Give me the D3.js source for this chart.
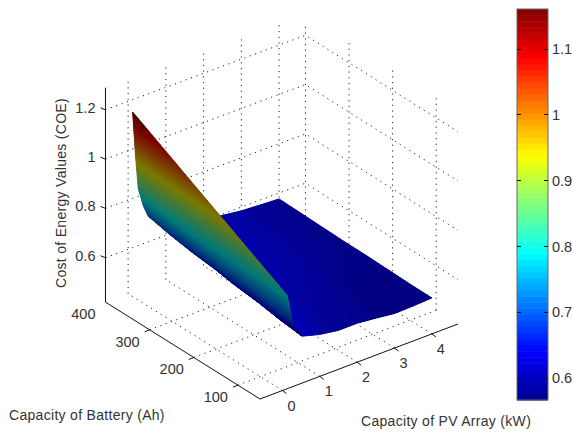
<!DOCTYPE html>
<html>
<head>
<meta charset="utf-8">
<script src="https://d3js.org/d3.v7.min.js"></script>
<style>
  body { margin: 0; background: #fff; }
  text { font-family: "Liberation Sans", Arial, sans-serif; fill: #333; }
</style>
</head>
<body>
<svg width="572" height="433"></svg>
<script>
// tick values on the axes
const batTicks = [100, 200, 300, 400];
const pvTicks = [0, 1, 2, 3, 4];
const coeTicks = [0.6, 0.8, 1, 1.2];
const barTicks = [0.6, 0.7, 0.8, 0.9, 1, 1.1];

// surface grid
const batGrid = [50, 100, 150, 200, 250, 300, 350, 400];
const pvGrid = [0.12, 0.2, 0.27, 0.4, 0.53, 1, 1.5, 2, 2.5, 3, 3.5, 4];
// one row per pvGrid value, one column per batGrid value
const coeRows = [
  [0.80, 0.85, 0.90, 0.95, 1.00, 1.05, 1.10, 1.15],
  [0.74, 0.77, 0.80, 0.83, 0.86, 0.90, 0.93, 0.96],
  [0.68, 0.70, 0.72, 0.74, 0.76, 0.78, 0.80, 0.83],
  [0.64, 0.655, 0.67, 0.685, 0.70, 0.72, 0.735, 0.755],
  [0.61, 0.62, 0.635, 0.645, 0.66, 0.67, 0.685, 0.705],
  [0.59, 0.60, 0.605, 0.61, 0.62, 0.625, 0.63, 0.64],
  [0.578, 0.585, 0.59, 0.60, 0.605, 0.61, 0.615, 0.62],
  [0.578, 0.58, 0.585, 0.59, 0.595, 0.60, 0.60, 0.605],
  [0.57, 0.575, 0.58, 0.585, 0.59, 0.59, 0.595, 0.595],
  [0.56, 0.565, 0.57, 0.575, 0.58, 0.585, 0.585, 0.585],
  [0.562, 0.565, 0.57, 0.572, 0.575, 0.575, 0.58, 0.58],
  [0.566, 0.566, 0.568, 0.57, 0.57, 0.572, 0.574, 0.576]
];

const svg = d3.select("svg");

// box extents
const batMin = 50, batMax = 400;
const pvMin = -0.6, pvMax = 4.7;
const coeFloor = 0.42, coeTop = 1.29, coeCornerTop = 1.25;

// slight perspective: pv ticks sit a little differently on the far edge
const batT = d3.scaleLinear().domain([batMin, batMax]).range([0, 1]);
const pvFront = d3.scaleLinear().domain([pvMin, pvMax]).range([0, 1]);
const pvBack = d3.scaleLinear().domain([-0.52, 4.74]).range([0, 1]);
const floorX = d3.scaleLinear().domain([0, 1]).range([260, 458]);
const floorXBack = d3.scaleLinear().domain([0, 1]).range([108.5, 307]);
const floorY = d3.scaleLinear().domain([0, 1]).range([399, 324]);
const floorYBack = d3.scaleLinear().domain([0, 1]).range([301, 227]);
const coeLift = d3.scaleLinear().domain([coeFloor, 1.2]).range([0, 192.3]);

function project(bat, pv, coe) {
  const t = batT(bat);
  const u = pvFront(pv) * (1 - t) + pvBack(pv) * t;
  const x = floorX(u) * (1 - t) + floorXBack(u) * t;
  const y = floorY(u) * (1 - t) + floorYBack(u) * t;
  return [x, y - coeLift(coe)];
}

// jet colormap
const barMin = 0.567, barMax = 1.16;
const jet = d3.scaleLinear()
  .domain([0, 0.125, 0.375, 0.625, 0.875, 1])
  .range(["#00008f", "#0000ff", "#00ffff", "#ffff00", "#ff0000", "#800000"])
  .clamp(true);
const coeColor = c => jet((c - barMin) / (barMax - barMin));

// ---- grid
const grid = svg.append("g")
  .attr("fill", "none")
  .attr("stroke", "#222")
  .attr("stroke-width", 1)
  .attr("stroke-dasharray", "1.2 4.5");
const line = d3.line();

function gridLine(pts) {
  grid.append("path").attr("d", line(pts));
}

// floor
pvTicks.forEach(v => gridLine([project(batMin, v, coeFloor), project(batMax, v, coeFloor)]));
batTicks.filter(b => b < batMax).forEach(b => gridLine([project(b, pvMin, coeFloor), project(b, pvMax, coeFloor)]));
// walls
coeTicks.forEach(c => gridLine([project(batMax, pvMin, c), project(batMax, pvMax, c), project(batMin, pvMax, c)]));
pvTicks.forEach(v => gridLine([project(batMax, v, coeFloor), project(batMax, v, coeTop)]));
batTicks.filter(b => b < batMax).forEach(b => gridLine([project(b, pvMax, coeFloor), project(b, pvMax, coeTop)]));
gridLine([project(batMax, pvMax, coeFloor), project(batMax, pvMax, coeCornerTop)]);

// ---- axes
const axes = svg.append("g").attr("fill", "none").attr("stroke", "#111").attr("stroke-width", 1);
axes.append("path").attr("d", line([
  project(batMax, pvMin, coeTop),
  project(batMax, pvMin, coeFloor),
  project(batMin, pvMin, coeFloor),
  project(batMin, pvMax, coeFloor)
]));

// tick stubs, drawn along the floor directions
coeTicks.forEach(c => {
  const [x, y] = project(batMax, pvMin, c);
  axes.append("path").attr("d", line([[x, y], [x - 5, y - 2]]));
});
batTicks.filter(b => b < batMax).forEach(b => {
  const [x, y] = project(b, pvMin, coeFloor);
  axes.append("path").attr("d", line([[x, y], [x - 5, y + 2]]));
});
pvTicks.forEach(v => {
  const [x, y] = project(batMin, v, coeFloor);
  axes.append("path").attr("d", line([[x, y], [x + 4, y + 3]]));
});

// ---- surface, painted from the far cells to the near ones, camera is at low pv / low battery
const shade = d3.scaleLinear().domain([0.1, 0.25]).range([0.9, 0.48]).clamp(true);
const surface = svg.append("g");
const dim = (col, k) => {
  const c = d3.rgb(col);
  return d3.rgb(c.r * k, c.g * k, c.b * k).formatRgb();
};

for (let i = pvGrid.length - 2; i >= 0; i--) {
  for (let j = batGrid.length - 2; j >= 0; j--) {
    const v0 = pvGrid[i], v1 = pvGrid[i + 1];
    const b0 = batGrid[j], b1 = batGrid[j + 1];
    const z00 = coeRows[i][j], z01 = coeRows[i][j + 1];
    const z10 = coeRows[i + 1][j], z11 = coeRows[i + 1][j + 1];
    const slope = Math.abs((z00 + z01) / 2 - (z10 + z11) / 2) / (v1 - v0);
    // interpolated shading inside the cell, the steep face needs finer steps
    const stepsA = i < 4 ? 20 : 5;
    const stepsB = i < 4 ? 8 : 5;
    const at = (a, b) => {
      const z = (z00 * (1 - b) + z01 * b) * (1 - a) + (z10 * (1 - b) + z11 * b) * a;
      return { p: project(b0 + (b1 - b0) * b, v0 + (v1 - v0) * a, z), z };
    };
    for (let a = stepsA - 1; a >= 0; a--) {
      for (let b = stepsB - 1; b >= 0; b--) {
        const q = [at(a / stepsA, b / stepsB), at((a + 1) / stepsA, b / stepsB),
                   at((a + 1) / stepsA, (b + 1) / stepsB), at(a / stepsA, (b + 1) / stepsB)];
        const col = dim(coeColor(d3.mean(q, d => d.z)), shade(slope));
        surface.append("polygon")
          .attr("points", q.map(d => d.p.join(",")).join(" "))
          .attr("fill", col)
          .attr("stroke", col)
          .attr("stroke-width", 1);
      }
    }
  }
}

// ---- tick labels
const labels = svg.append("g").attr("font-size", 14.5);
coeTicks.forEach(c => {
  const [x, y] = project(batMax, pvMin, c);
  labels.append("text").attr("x", x - 10).attr("y", y + 3).attr("text-anchor", "end").text(c);
});
batTicks.forEach(b => {
  const [x, y] = project(b, pvMin, coeFloor);
  labels.append("text").attr("x", x - 10).attr("y", y + 17).attr("text-anchor", "end").text(b);
});
pvTicks.forEach(v => {
  const [x, y] = project(batMin, v, coeFloor);
  labels.append("text").attr("x", x + 9).attr("y", y + 20).attr("text-anchor", "middle").text(v);
});

// ---- axis titles
const titles = svg.append("g").attr("font-size", 14).attr("letter-spacing", 0.3);
titles.append("text").attr("x", 9).attr("y", 420).text("Capacity of Battery (Ah)");
titles.append("text").attr("x", 361).attr("y", 426).text("Capacity of PV Array (kW)");
titles.append("text").attr("transform", "translate(66,193) rotate(-90)")
  .attr("text-anchor", "middle").text("Cost of Energy Values (COE)");

// ---- colorbar
const barX = 517, barW = 31;
const barY = d3.scaleLinear().domain([barMin, barMax]).range([400, 9]);
const bands = d3.range(64);
const bar = svg.append("g");
bar.selectAll("rect").data(bands).join("rect")
  .attr("x", barX)
  .attr("width", barW)
  .attr("y", d => barY(barMin + (d + 1) / 64 * (barMax - barMin)))
  .attr("height", d => barY(barMin + d / 64 * (barMax - barMin)) - barY(barMin + (d + 1) / 64 * (barMax - barMin)) + 0.5)
  .attr("fill", d => jet((d + 0.5) / 64));
bar.append("rect")
  .attr("x", barX).attr("y", 9).attr("width", barW).attr("height", 391)
  .attr("fill", "none").attr("stroke", "#666");

const barAxis = d3.axisRight(barY).tickValues(barTicks).tickSize(0).tickPadding(4).tickFormat(d => d);
const barG = svg.append("g").attr("transform", `translate(${barX + barW},0)`).call(barAxis);
barG.select(".domain").remove();
barG.selectAll("text").attr("font-size", 14.5).style("font-family", '"Liberation Sans", Arial, sans-serif').attr("fill", "#333");
barTicks.forEach(t => {
  const y = Math.round(barY(t)) + 0.5;
  bar.append("path").attr("d", line([[barX, y], [barX + 4, y]])).attr("stroke", "#111");
  bar.append("path").attr("d", line([[barX + barW - 4, y], [barX + barW, y]])).attr("stroke", "#111");
});
</script>
</body>
</html>
